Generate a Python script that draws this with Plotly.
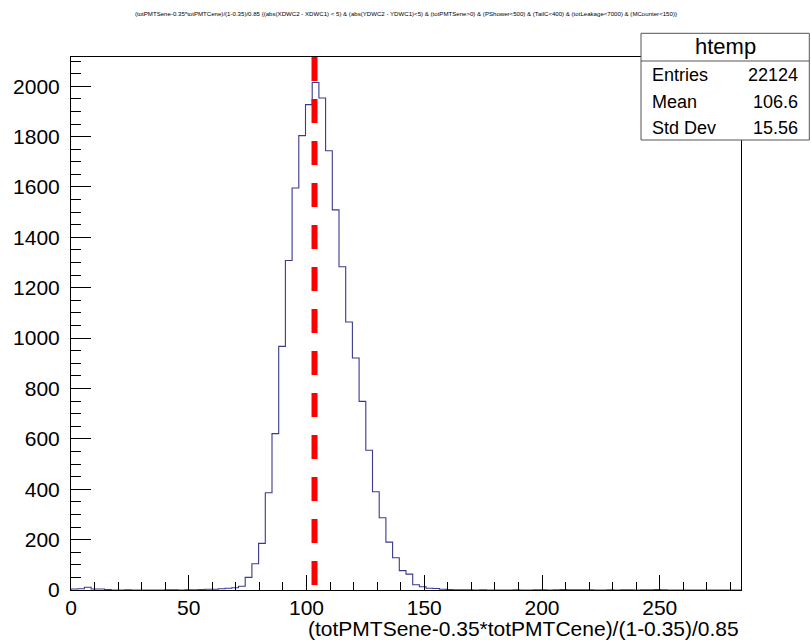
import numpy as np
import plotly.graph_objects as go

# ---- data ----
x_min, x_max, n_bins = 0.0, 284.5, 100
counts = [
    4, 5, 11, 4, 4, 2, 0, 0, 1, 0,
    0, 0, 0, 0, 1, 1, 0, 1, 1, 2,
    3, 3, 5, 7, 9, 15, 50, 104, 185, 386,
    621, 967, 1308, 1596, 1804, 1927, 2015, 1953, 1744, 1509,
    1283, 1064, 921, 749, 555, 390, 287, 190, 128, 77,
    63, 21, 13, 7, 6, 3, 2, 1, 1, 1,
    0, 1, 0, 0, 0, 0, 1, 0, 0, 1,
    1, 0, 1, 2, 1, 1, 1, 1, 0, 0,
    1, 0, 1, 1, 0, 1, 1, 2, 1, 0,
    0, 0, 0, 0, 0, 0, 0, 0, 0, 0,
]
line_x = 103.4
y_max = 2116
stats_labels = ["Entries", "Mean", "Std Dev"]
stats_values = ["22124", "106.6", "15.56"]
stats_title = "htemp"
title_text = ("(totPMTSene-0.35*totPMTCene)/(1-0.35)/0.85 {(abs(XDWC2 - XDWC1) &lt; 5) &amp; "
              "(abs(YDWC2 - YDWC1)&lt;5) &amp; (totPMTSene&gt;0) &amp; (PShower&lt;500) &amp; "
              "(TailC&lt;400) &amp; (totLeakage&lt;7000) &amp; (MCounter&lt;150)}")
x_title = "(totPMTSene-0.35*totPMTCene)/(1-0.35)/0.85"

# ---- geometry ----
W, H = 811, 640
L, R, T, B = 71, 70, 57, 50
pw, ph = W - L - R, H - T - B
def px(xp):
    return (xp - L) / pw
def py(yp):
    return (H - B - yp) / ph

edges = np.linspace(x_min, x_max, n_bins + 1)
hx = np.concatenate([[edges[0]], edges])
hy = np.concatenate([[0], counts, [0]])

FONT = "Liberation Sans, Arial, Helvetica, sans-serif"

fig = go.Figure()
fig.add_trace(go.Scatter(x=hx, y=hy, mode="lines", line=dict(shape="hv", color="#3a3a90", width=1.1),
                         hoverinfo="skip", showlegend=False))

fig.add_shape(type="line", xref="x", yref="paper", x0=line_x, x1=line_x, y0=1, y1=0,
              line=dict(color="#ff0000", width=6, dash="24px,18px"), layer="above")

# stats box
bx0, bx1, by0, by1, bsep = px(641), px(809.3), py(140), py(33.3), py(61)
fig.add_shape(type="rect", xref="paper", yref="paper", x0=bx0, x1=bx1, y0=by0, y1=by1,
              line=dict(color="#555555", width=1), fillcolor="white", layer="above")
fig.add_shape(type="line", xref="paper", yref="paper", x0=bx0, x1=bx1, y0=bsep, y1=bsep,
              line=dict(color="#555555", width=1), layer="above")
fig.add_annotation(x=px(725), y=py(46.7), xref="paper", yref="paper", text=stats_title,
                   showarrow=False, xanchor="center", yanchor="middle",
                   font=dict(family=FONT, size=22, color="black"))
rows_y = [75, 101.7, 128.3]
for lab, val, yy in zip(stats_labels, stats_values, rows_y):
    fig.add_annotation(x=px(650), y=py(yy), xref="paper", yref="paper", text=lab, showarrow=False,
                       xanchor="left", yanchor="middle", font=dict(family=FONT, size=18, color="black"))
    fig.add_annotation(x=px(800), y=py(yy), xref="paper", yref="paper", text=val, showarrow=False,
                       xanchor="right", yanchor="middle", font=dict(family=FONT, size=18, color="black"))

# title
fig.add_annotation(x=0.5, y=py(14), xref="paper", yref="paper", text=title_text, showarrow=False,
                   xanchor="center", yanchor="middle", font=dict(family=FONT, size=6.1, color="black"))
# x-axis title
fig.add_annotation(x=1, y=py(628), xref="paper", yref="paper", text=x_title, showarrow=False,
                   xanchor="right", yanchor="middle", font=dict(family=FONT, size=21, color="black"))

fig.update_layout(
    width=W, height=H, margin=dict(l=L, r=R, t=T, b=B),
    paper_bgcolor="white", plot_bgcolor="white",
    font=dict(family=FONT, size=21, color="black"),
    showlegend=False,
)
fig.update_xaxes(range=[x_min, x_max], showgrid=False, zeroline=False,
                 showline=True, mirror=True, linecolor="black", linewidth=1,
                 ticks="inside", ticklen=15, tickcolor="black", dtick=50, tick0=0,
                 ticklabelstandoff=-1,
                 minor=dict(ticks="inside", ticklen=8, dtick=10, tickcolor="black"),
                 tickfont=dict(family=FONT, size=21, color="black"))
fig.update_yaxes(range=[0, y_max], showgrid=False, zeroline=False,
                 showline=True, mirror=True, linecolor="black", linewidth=1,
                 ticks="inside", ticklen=20, tickcolor="black", dtick=200, tick0=0,
                 ticklabelstandoff=6,
                 minor=dict(ticks="inside", ticklen=10, dtick=50, tickcolor="black"),
                 tickfont=dict(family=FONT, size=21, color="black"))

fig.write_html("out.html")
